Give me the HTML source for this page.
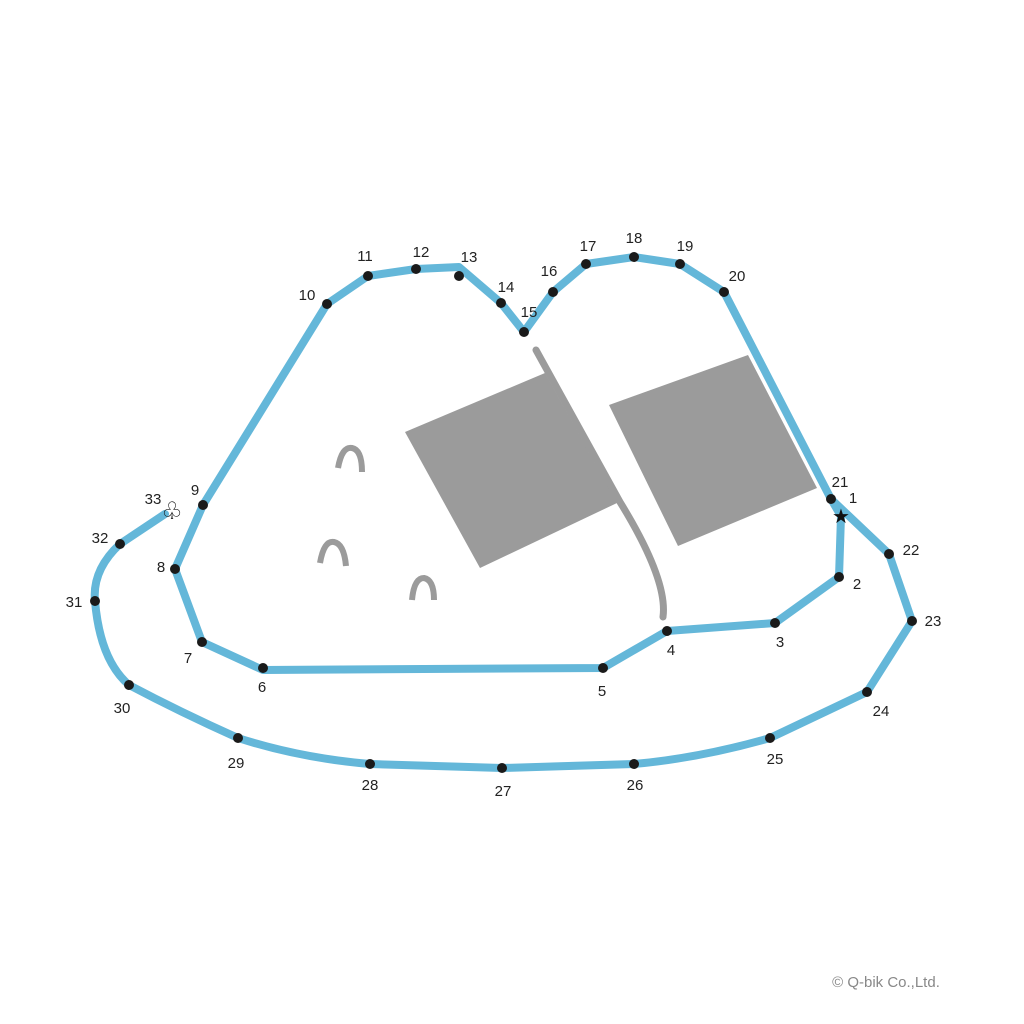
<!DOCTYPE html>
<html><head><meta charset="utf-8"><style>
html,body{margin:0;padding:0;background:#fff;}
svg{display:block}
text{font-family:"Liberation Sans",sans-serif;font-size:15px;fill:#222;text-anchor:middle}
</style></head><body>
<svg width="1024" height="1024" viewBox="0 0 1024 1024">
<polygon points="405,432 545,373 617,503 480,568" fill="#9b9b9b"/>
<polygon points="609,405 748,355 817,488 678,546" fill="#9b9b9b"/>
<path d="M536,350 L620,502 Q668,580 663,617" fill="none" stroke="#9b9b9b" stroke-width="7" stroke-linecap="round"/>
<g fill="none" stroke="#9b9b9b" stroke-width="6">
<path d="M338,468 Q342,446 352,448 Q362,450 362,472"/>
<path d="M320,563 Q324,540 334,542 Q344,544 346,566"/>
<path d="M412,600 Q414,578 424,578 Q434,580 434,600"/>
</g>
<g fill="none" stroke="#64b7d9" stroke-width="8" stroke-linejoin="round" stroke-linecap="round">
<path d="M831,499 L841,516 L839,577 L775,623 L667,631 L603,668 L263,670 L202,642 L175,569 L203,505 L327,304 L368,276 L416,269 L459,267 L501,303 L524,332 L553,292 L586,264 L634,257 L680,264 L724,292 L831,499 L889,554 L912,621 L867,692 L770,738 Q700,758 634,764 L502,768 L370,764 Q300,758 238,738 Q180,712 129,685 Q100,660 95,601 Q92,570 120,544 L165,514"/>
</g>
<g fill="#1a1a1a">
<circle cx="839" cy="577" r="5"/><circle cx="775" cy="623" r="5"/><circle cx="667" cy="631" r="5"/>
<circle cx="603" cy="668" r="5"/><circle cx="263" cy="668" r="5"/><circle cx="202" cy="642" r="5"/>
<circle cx="175" cy="569" r="5"/><circle cx="203" cy="505" r="5"/><circle cx="327" cy="304" r="5"/>
<circle cx="368" cy="276" r="5"/><circle cx="416" cy="269" r="5"/><circle cx="459" cy="276" r="5"/>
<circle cx="501" cy="303" r="5"/><circle cx="524" cy="332" r="5"/><circle cx="553" cy="292" r="5"/>
<circle cx="586" cy="264" r="5"/><circle cx="634" cy="257" r="5"/><circle cx="680" cy="264" r="5"/>
<circle cx="724" cy="292" r="5"/><circle cx="831" cy="499" r="5"/><circle cx="889" cy="554" r="5"/>
<circle cx="912" cy="621" r="5"/><circle cx="867" cy="692" r="5"/><circle cx="770" cy="738" r="5"/>
<circle cx="634" cy="764" r="5"/><circle cx="502" cy="768" r="5"/><circle cx="370" cy="764" r="5"/>
<circle cx="238" cy="738" r="5"/><circle cx="129" cy="685" r="5"/><circle cx="95" cy="601" r="5"/>
<circle cx="120" cy="544" r="5"/>
</g>
<text x="841" y="523" style="font-size:20px;fill:#111">★</text>
<text x="172" y="519" style="font-size:24px;fill:#111">♧</text>
<text x="853" y="503">1</text><text x="857" y="589">2</text><text x="780" y="647">3</text>
<text x="671" y="655">4</text><text x="602" y="696">5</text><text x="262" y="692">6</text>
<text x="188" y="663">7</text><text x="161" y="572">8</text><text x="195" y="495">9</text>
<text x="307" y="300">10</text><text x="365" y="261">11</text><text x="421" y="257">12</text>
<text x="469" y="262">13</text><text x="506" y="292">14</text><text x="529" y="317">15</text>
<text x="549" y="276">16</text><text x="588" y="251">17</text><text x="634" y="243">18</text>
<text x="685" y="251">19</text><text x="737" y="281">20</text><text x="840" y="487">21</text>
<text x="911" y="555">22</text><text x="933" y="626">23</text><text x="881" y="716">24</text>
<text x="775" y="764">25</text><text x="635" y="790">26</text><text x="503" y="796">27</text>
<text x="370" y="790">28</text><text x="236" y="768">29</text><text x="122" y="713">30</text>
<text x="74" y="607">31</text><text x="100" y="543">32</text><text x="153" y="504">33</text>
<text x="886" y="987" style="font-size:15px;fill:#888">© Q-bik Co.,Ltd.</text>
</svg>
</body></html>
